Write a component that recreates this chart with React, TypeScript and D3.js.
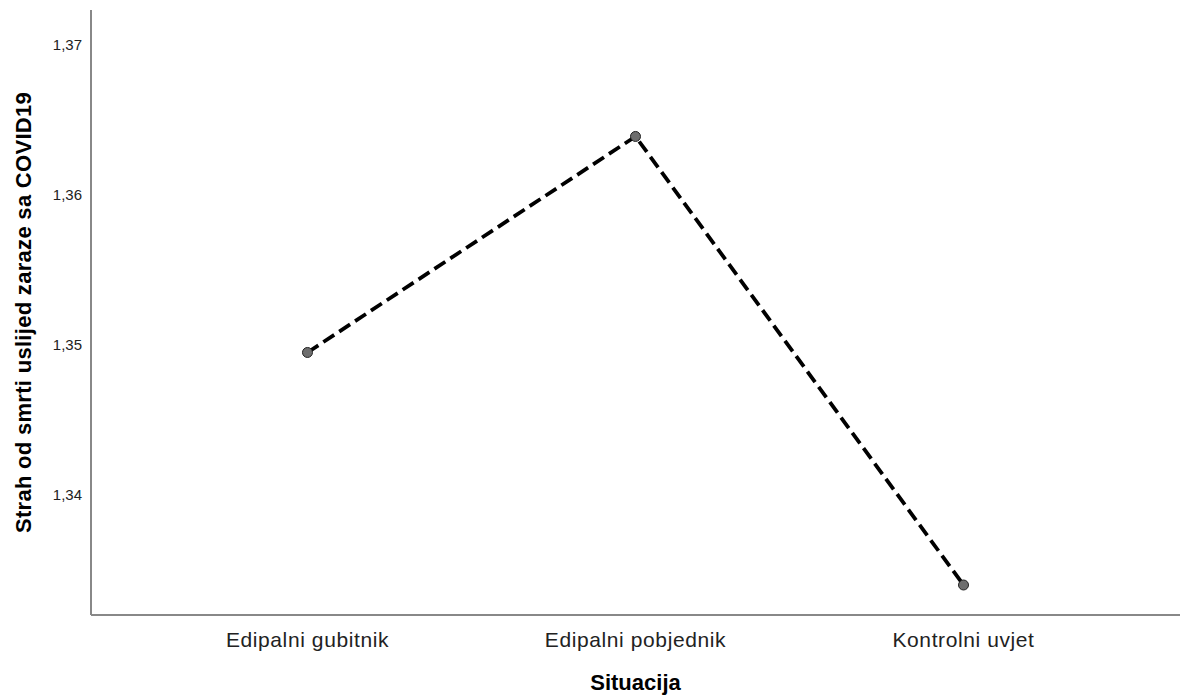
import React from "react";
import * as d3 from "d3";

const categories = ["Edipalni gubitnik", "Edipalni pobjednik", "Kontrolni uvjet"];
const means = [1.3495, 1.3639, 1.3340];
const yTicks = [1.34, 1.35, 1.36, 1.37];
const yTitle = "Strah od smrti uslijed zaraze sa COVID19";
const xTitle = "Situacija";

const W = 1180;
const H = 695;
const left = 91;
const right = 1180;
const top = 10;
const bottom = 615;

export default function App() {
  const x = d3.scalePoint<string>().domain(categories).range([left, right]).padding(0.66);
  const y = d3.scaleLinear().domain([1.332, 1.37233]).range([bottom, top]);
  const line = d3
    .line<number>()
    .x((_, i) => x(categories[i]) as number)
    .y((d) => y(d));
  const fmt = (v: number) => v.toFixed(2).replace(".", ",");
  const font = "'Liberation Sans', Arial, sans-serif";
  return (
    <svg
      width={W}
      height={H}
      style={{ position: "absolute", left: 0, top: 0, background: "#fff" }}
      fontFamily={font}
    >
      <line x1={left} x2={left} y1={top} y2={bottom} stroke="#888" strokeWidth={2} />
      <line x1={left} x2={right} y1={bottom} y2={bottom} stroke="#888" strokeWidth={2} />
      {yTicks.map((t) => (
        <text key={t} x={82} y={y(t)} dy="0.35em" textAnchor="end" fontSize={15} fill="#222">
          {fmt(t)}
        </text>
      ))}
      {categories.map((c) => (
        <text key={c} x={x(c)} y={647} textAnchor="middle" fontSize={21} fill="#222" letterSpacing={0.6}>
          {c}
        </text>
      ))}
      <text x={(left + right) / 2} y={690} textAnchor="middle" fontSize={22} fontWeight="bold" fill="#000">
        {xTitle}
      </text>
      <text
        transform={`translate(31,${(top + bottom) / 2}) rotate(-90)`}
        textAnchor="middle"
        fontSize={22}
        fontWeight="bold"
        fill="#000"
        letterSpacing={0.3}
      >
        {yTitle}
      </text>
      <path d={line(means) || ""} fill="none" stroke="#000" strokeWidth={3.8} strokeDasharray="13,6" />
      {means.map((m, i) => (
        <circle key={i} cx={x(categories[i])} cy={y(m)} r={5} fill="#6e6e6e" stroke="#222" strokeWidth={1} />
      ))}
    </svg>
  );
}
